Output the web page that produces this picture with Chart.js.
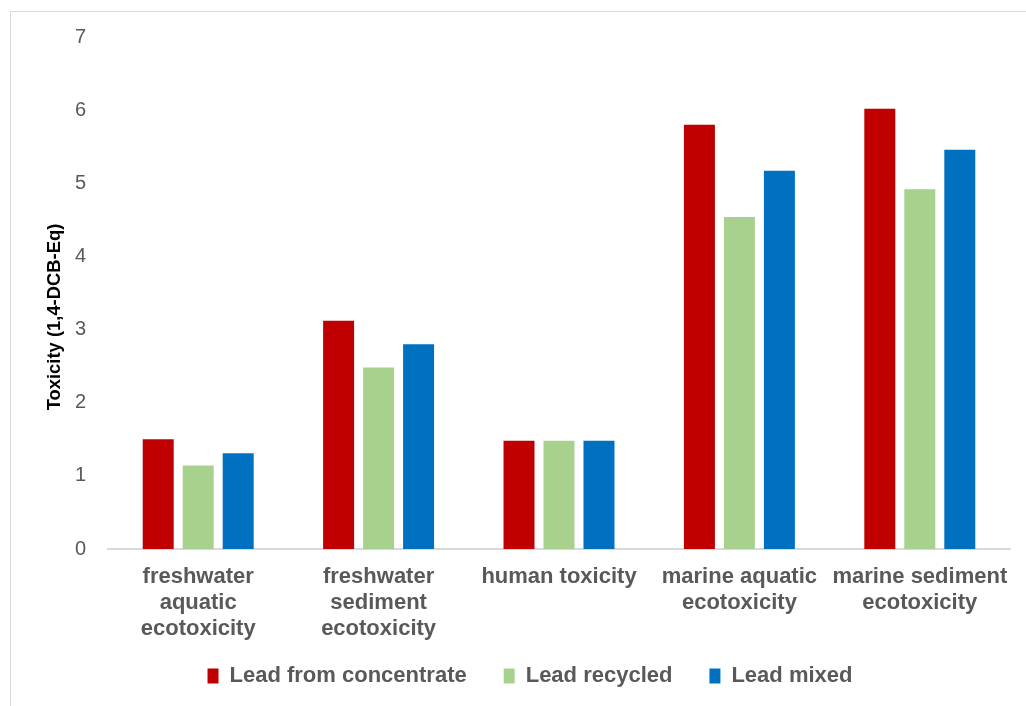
<!DOCTYPE html>
<html>
<head>
<meta charset="utf-8">
<script src="https://cdn.jsdelivr.net/npm/chart.js@4"></script>
<style>
  html, body { margin: 0; padding: 0; background: #fff; }
  #wrap { width: 1026px; height: 706px; }
</style>
</head>
<body>
<div id="wrap"><canvas id="main" width="1026" height="706"></canvas></div>
<script>
const categories = [
    ['freshwater', 'aquatic', 'ecotoxicity'],
    ['freshwater', 'sediment', 'ecotoxicity'],
    'human toxicity',
    ['marine aquatic', 'ecotoxicity'],
    ['marine sediment', 'ecotoxicity']
]
const leadConcentrate = [1.50, 3.12, 1.48, 5.80, 6.02]
const leadRecycled = [1.14, 2.48, 1.48, 4.54, 4.92]
const leadMixed = [1.31, 2.80, 1.48, 5.17, 5.46]
const yTicks = [0, 1, 2, 3, 4, 5, 6, 7]

const FONT = "'Liberation Sans', Arial, sans-serif"
const GREY = '#595959'

// light frame around the chart, like the office export
const frame = {
    id: 'frame',
    beforeDraw(chart) {
        const c = chart.ctx
        c.save()
        c.fillStyle = '#fff'
        c.fillRect(0, 0, chart.width, chart.height)
        c.strokeStyle = '#d9d9d9'
        c.lineWidth = 1
        c.strokeRect(10.5, 11.5, 1100, 800)
        c.restore()
    },
    afterLayout(chart) {
        // legend in the original sits a bit right of centre and higher up
        const lg = chart.legend
        lg.left += 25
        lg.right += 25
        lg.top -= 17
        lg.bottom -= 17
        // y title is centred a little lower than the axis
        chart.scales.y.top += 24
        chart.scales.y.bottom += 24
    }
}

const ctx = document.querySelector('#main').getContext('2d')

let chart = new Chart(ctx, {
    type: 'bar',
    data: {
        labels: categories,
        datasets: [{
            label: 'Lead from concentrate',
            backgroundColor: '#C00000',
            data: leadConcentrate
        }, {
            label: 'Lead recycled',
            backgroundColor: '#A9D18E',
            data: leadRecycled
        }, {
            label: 'Lead mixed',
            backgroundColor: '#0070C0',
            data: leadMixed
        }]
    },
    options: {
        responsive: false,
        animation: false,
        layout: { padding: { top: 37, right: 16, left: 0, bottom: 0 } },
        datasets: {
            bar: { categoryPercentage: 0.665, barPercentage: 0.775 }
        },
        plugins: {
            tooltip: { enabled: false },
            legend: {
                position: 'bottom',
                maxHeight: 61,
                labels: {
                    color: GREY,
                    font: { family: FONT, size: 22, weight: 'bold' },
                    boxWidth: 11,
                    boxHeight: 15,
                    padding: 37
                }
            }
        },
        scales: {
            x: {
                grid: { display: false, drawTicks: false },
                border: { display: true, color: '#d9d9d9', width: 2 },
                ticks: {
                    color: GREY,
                    padding: 15,
                    maxRotation: 0,
                    autoSkip: false,
                    font: { family: FONT, size: 22, weight: 'bold', lineHeight: 1.18 }
                },
                afterFit(scale) { scale.height = 96 }
            },
            y: {
                min: 0,
                max: 7,
                grid: { display: false, drawTicks: false },
                border: { display: false },
                afterBuildTicks(scale) {
                    scale.ticks = yTicks.map(v => ({ value: v }))
                },
                ticks: {
                    color: GREY,
                    padding: 22,
                    font: { family: FONT, size: 20 }
                },
                title: {
                    display: true,
                    text: 'Toxicity (1,4-DCB-Eq)',
                    color: '#000',
                    font: { family: FONT, size: 18.4, weight: 'bold' },
                    padding: { top: 44, bottom: 0 }
                },
                afterFit(scale) { scale.width = 108 }
            }
        }
    },
    plugins: [frame]
})
</script>
</body>
</html>
